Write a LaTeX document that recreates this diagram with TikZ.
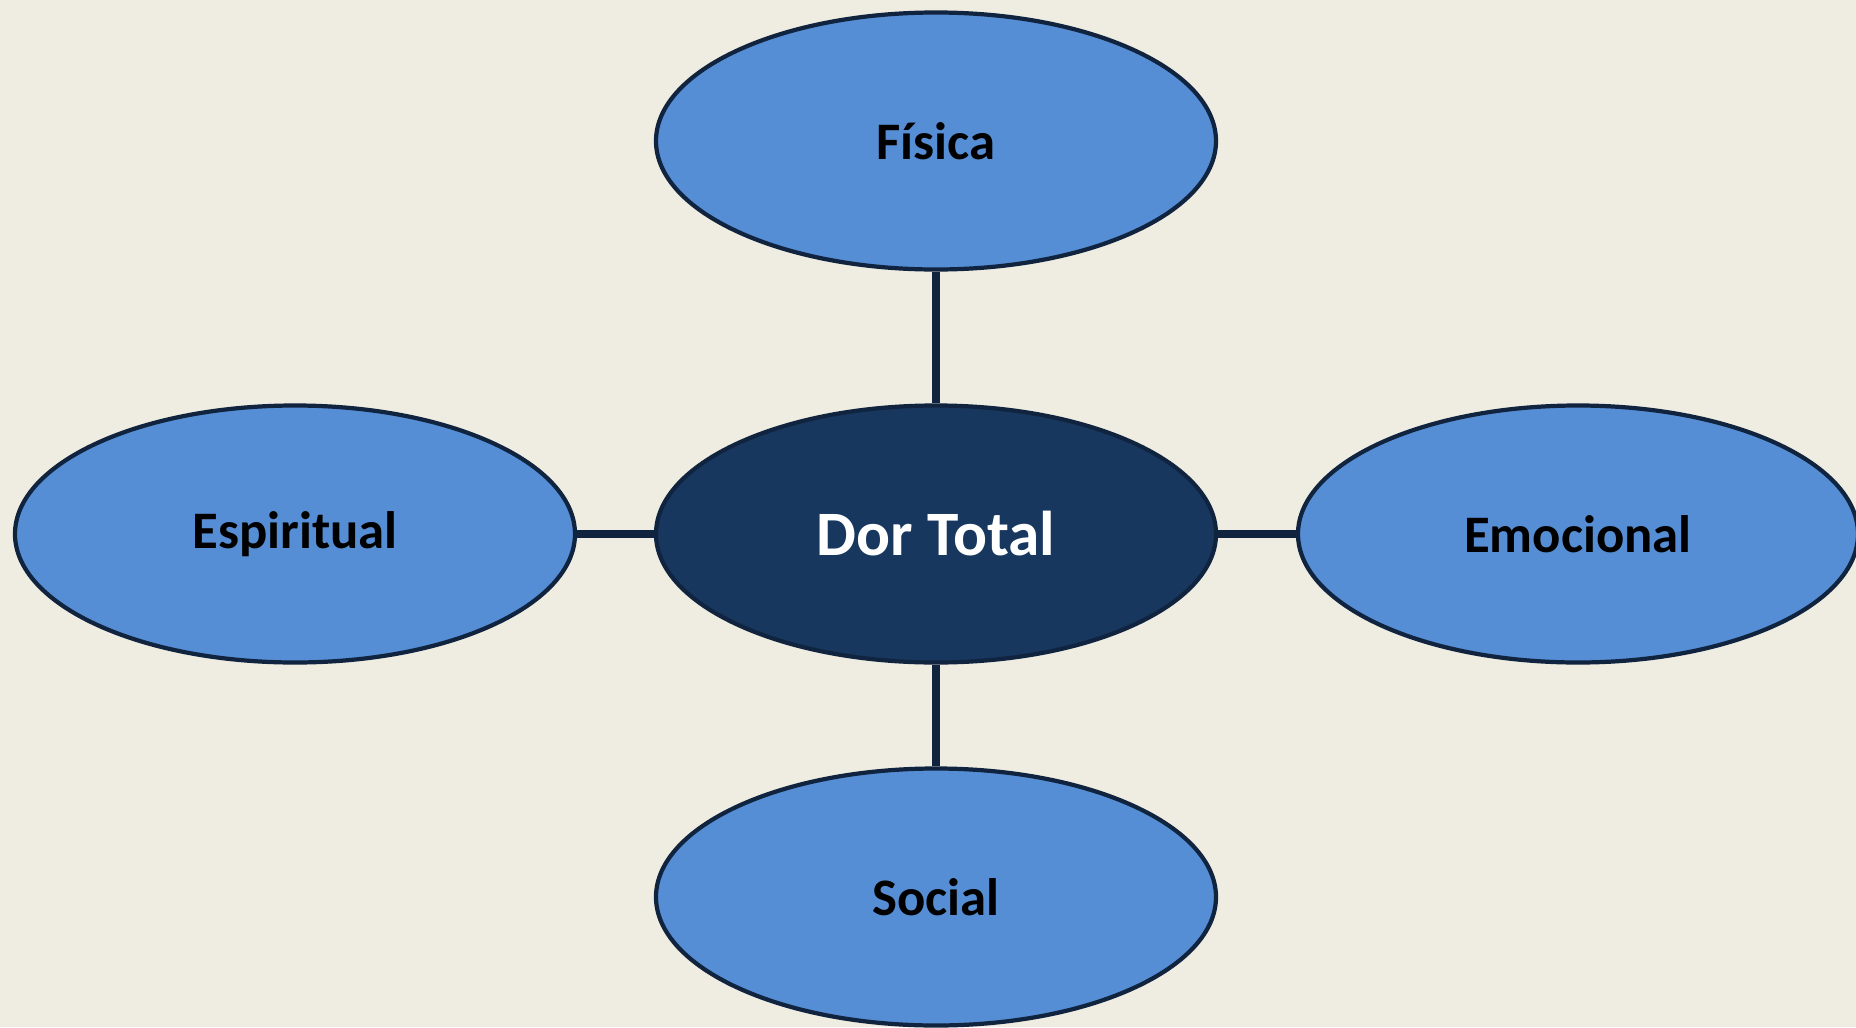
\documentclass[tikz,border=0pt]{standalone}
\usepackage{fontspec}
\setmainfont{Carlito}
\usetikzlibrary{shapes.geometric}

\definecolor{bgcream}{HTML}{EFECE1}
\definecolor{lightblue}{HTML}{558ED5}
\definecolor{darkblue}{HTML}{17375E}
\definecolor{edgeblue}{HTML}{10243F}

\tikzset{
  part/.style={ellipse, draw=edgeblue, line width=1.2pt, fill=lightblue,
    minimum width=5.6cm, minimum height=2.57cm, inner sep=0pt,
    font=\fontsize{15}{18}\selectfont\bfseries, text=black},
  core/.style={part, fill=darkblue, text=white,
    font=\fontsize{18}{21}\selectfont\bfseries},
  link/.style={draw=edgeblue, line width=2.2pt}
}

\begin{document}
\begin{tikzpicture}
  % Background
  \fill[bgcream] (-9.36,-4.93) rectangle (9.20,5.34);
  \useasboundingbox (-9.36,-4.93) rectangle (9.20,5.34);

  % Centre and the four dimensions
  \node[core] (dor) at (0,0) {Dor Total};
  \node[part] (fisica)     at (0,3.93)   {Física};
  \node[part] (social)     at (0,-3.63)  {Social};
  \node[part] (espiritual) at (-6.41,0)  {Espiritual};
  \node[part] (emocional)  at (6.42,0)   {Emocional};

  % Links
  \draw[link] (fisica) -- (dor);
  \draw[link] (dor) -- (social);
  \draw[link] (espiritual) -- (dor);
  \draw[link] (dor) -- (emocional);
\end{tikzpicture}
\end{document}
